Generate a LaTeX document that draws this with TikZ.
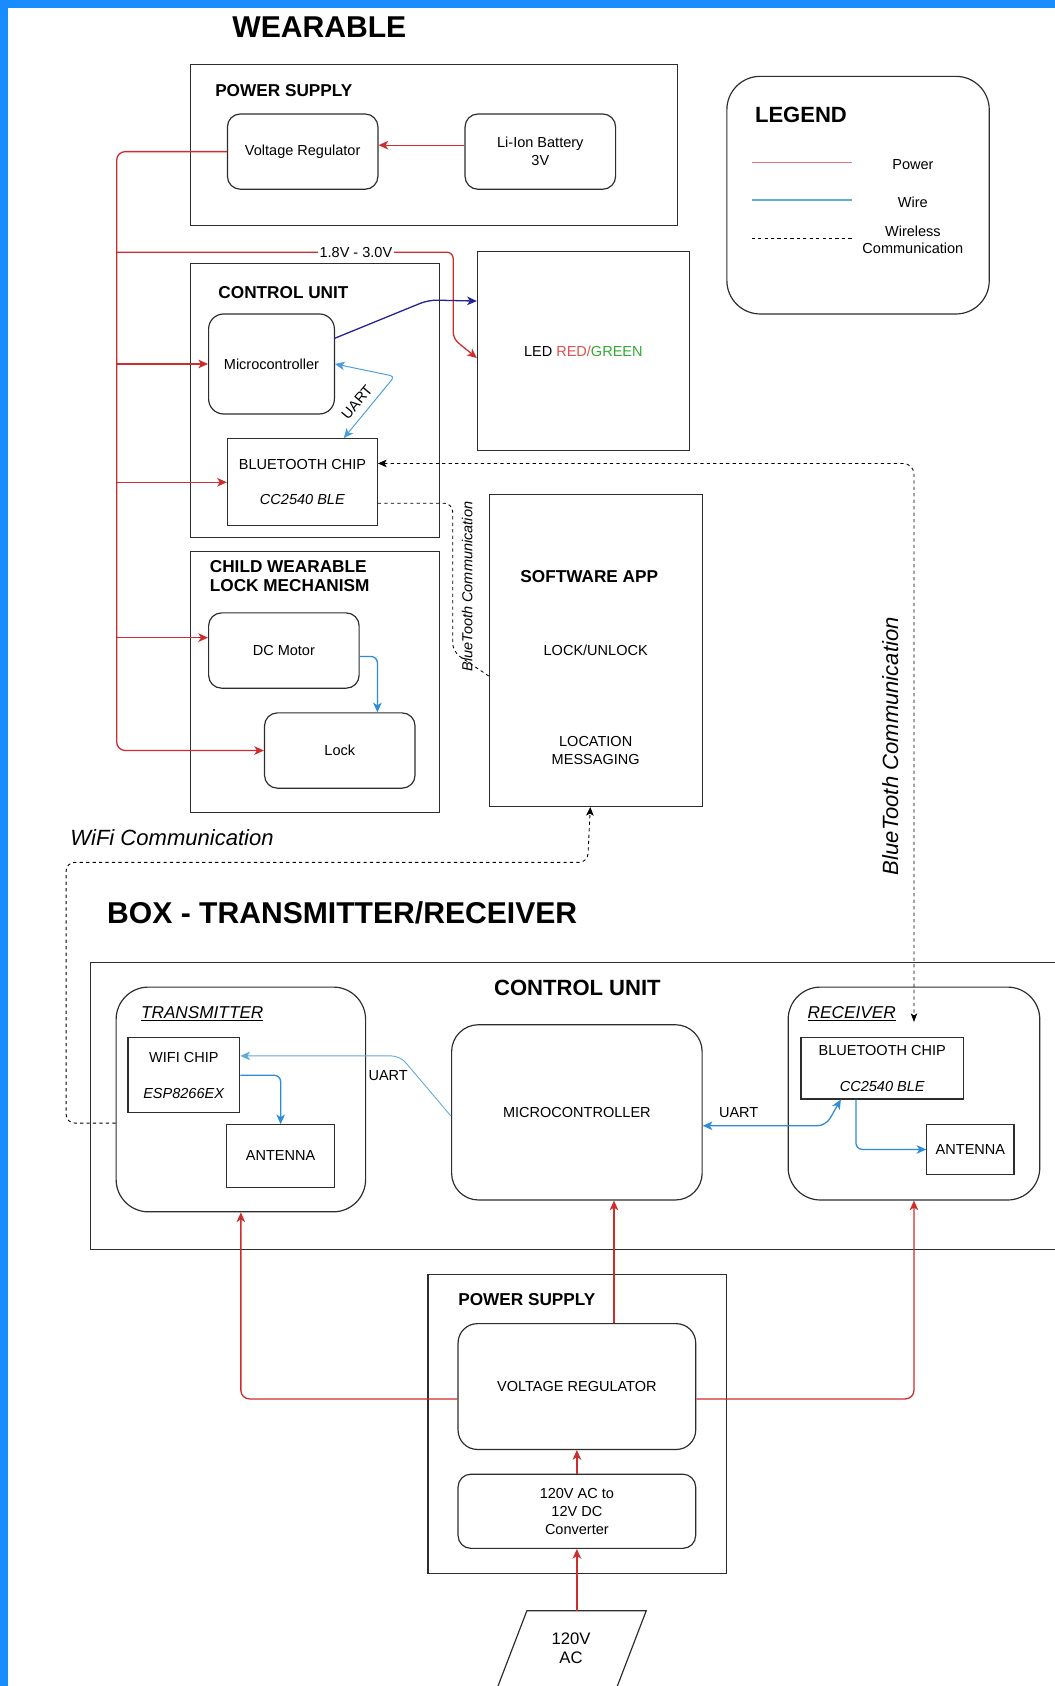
\documentclass[tikz,border=0pt]{standalone}
\usepackage{fontspec}
\setmainfont{Liberation Sans}
\usetikzlibrary{arrows.meta,calc}
\definecolor{frameblue}{RGB}{25,140,255}
\definecolor{pwred}{RGB}{205,45,45}
\definecolor{wireblue}{RGB}{45,140,215}
\definecolor{lightwire}{RGB}{95,170,215}
\definecolor{navyblue}{RGB}{35,35,145}
\definecolor{boxline}{RGB}{45,45,45}
\definecolor{legred}{RGB}{225,120,120}
\definecolor{legblue}{RGB}{100,170,210}
\definecolor{ledred}{RGB}{225,80,80}
\definecolor{ledgreen}{RGB}{50,170,50}
\newcommand\fnormal{\fontsize{13.5}{16.5}\selectfont}
\newcommand\fsub{\fontsize{16}{19}\selectfont}
\newcommand\ftitle{\fontsize{16}{18}\selectfont\bfseries}
\newcommand\fbig{\fontsize{20.5}{24}\selectfont\bfseries}
\newcommand\fitbig{\fontsize{20.5}{24}\selectfont\itshape}
\newcommand\fhuge{\fontsize{28}{32}\selectfont\bfseries}
\tikzset{
  box/.style={draw=boxline, line width=1.1pt, inner sep=0pt, align=center, font=\fnormal},
  rbox/.style={box, rounded corners=12pt},
  arr/.style={-{Stealth[length=9pt,width=8pt,inset=2.5pt]}},
  arrtwo/.style={{Stealth[length=9pt,width=8pt,inset=2.5pt]}-{Stealth[length=9pt,width=8pt,inset=2.5pt]}},
  carr/.style={-{Stealth[length=8pt,width=7pt,inset=2pt]}},
  carrtwo/.style={{Stealth[length=8pt,width=7pt,inset=2pt]}-{Stealth[length=8pt,width=6pt,inset=2pt]}},
  pw/.style={draw=pwred, line width=1.2pt},
  pwa/.style={pw, arr},
  wire/.style={draw=wireblue, line width=1.2pt},
  wirea/.style={wire, arr},
  wireatwo/.style={wire, arrtwo},
  thinwirea/.style={draw=lightwire, line width=0.8pt, arr},
  navya/.style={draw=navyblue, line width=1.2pt, arr},
  comm/.style={draw=black, line width=0.8pt, dash pattern=on 3pt off 3pt},
  comma/.style={comm, carr},
  commatwo/.style={comm, carrtwo},
  lbl/.style={font=\fnormal, inner sep=1pt}
}
\begin{document}
\begin{tikzpicture}[x=1pt,y=-1pt]
\useasboundingbox (0,0) rectangle (981,1568);
\fill[white] (0,0) rectangle (981,1568);
\fill[frameblue] (0,0) rectangle (7,1568);
\fill[frameblue] (0,0) rectangle (981,7);

% ---------------- WEARABLE ----------------
\node[font=\fhuge] (wtitle) at (297,25) {WEARABLE};
\node[box, minimum width=453pt, minimum height=150pt] (wps) at (403.5,135) {};
\node[font=\ftitle, anchor=west, inner sep=0pt] (wpsT) at (200,84) {POWER SUPPLY};
\node[rbox, minimum width=140pt, minimum height=70pt] (wvr) at (281.5,141) {Voltage Regulator};
\node[rbox, minimum width=140pt, minimum height=70pt] (wbat) at (502.5,141) {Li-Ion Battery\\3V};

% legend
\node[box, rounded corners=31pt, minimum width=244pt, minimum height=221pt] (legend) at (798,181.5) {};
\node[font=\fbig, anchor=west, inner sep=0pt] (legT) at (702,107) {LEGEND};
\coordinate (lpA) at (699,151); \coordinate (lpB) at (792,151);
\draw[legred, line width=1.2pt] (lpA) -- (lpB);
\node[lbl] (legP) at (849,153) {Power};
\coordinate (lwA) at (699,186); \coordinate (lwB) at (792,186);
\draw[legblue, line width=1.2pt] (lwA) -- (lwB);
\node[lbl] (legW) at (849,188) {Wire};
\coordinate (ldA) at (699,222); \coordinate (ldB) at (792,222);
\draw[comm] (ldA) -- (ldB);
\node[lbl, align=center] (legC) at (849,223) {Wireless\\Communication};

% control unit (wearable)
\node[box, minimum width=232pt, minimum height=255pt] (wcu) at (293,372.5) {};
\node[font=\ftitle, anchor=west, inner sep=0pt] (wcuT) at (203,272) {CONTROL UNIT};
\node[rbox, rounded corners=14pt, minimum width=117pt, minimum height=93pt] (wmc) at (252.5,338.5) {Microcontroller};
\node[box, minimum width=139.5pt, minimum height=81pt] (wbt) at (281.25,448.5) {BLUETOOTH CHIP\\[16.5pt]\textit{CC2540 BLE}};

% LED
\node[box, minimum width=197pt, minimum height=185pt] (led) at (542.5,326.5) {LED \textcolor{ledred}{RED/}\textcolor{ledgreen}{GREEN}};

% child wearable lock
\node[box, minimum width=232pt, minimum height=243pt] (wch) at (293,634.5) {};
\node[font=\ftitle, anchor=west, align=left, inner sep=0pt] (wchT) at (195,536) {CHILD WEARABLE\\LOCK MECHANISM};
\node[rbox, minimum width=140pt, minimum height=70pt] (dcm) at (264,605) {DC Motor};
\node[rbox, minimum width=140pt, minimum height=70pt] (lock) at (316,698) {Lock};

% software app
\node[box, minimum width=197.5pt, minimum height=290pt] (app) at (554.25,605) {};
\node[font=\ftitle] (appT) at (548,536) {SOFTWARE APP};
\node[lbl] (appL) at (554,605) {LOCK/UNLOCK};
\node[lbl, align=center] (appM) at (554,698) {LOCATION\\MESSAGING};

% power wiring (wearable)
\coordinate (busT) at (108.5,141);
\coordinate (busB) at (108.5,698);
\draw[pwa] ([yshift=6pt]wbat.west) -- ([yshift=6pt]wvr.east);
\draw[pwa, rounded corners=8pt] (wvr.west) -- (busT) -- (busB) -- (lock.west);
\draw[pwa] (busT |- wmc.west) -- (wmc.west);
\draw[pwa] (busT |- wbt.west) -- (wbt.west);
\coordinate (dcmIn) at ([yshift=12pt]dcm.west);
\draw[pwa] (busT |- dcmIn) -- (dcmIn);
\coordinate (vA) at (108.5,234.5);
\coordinate (vB) at (421.5,234.5);
\coordinate (vC) at (421.5,315);
\draw[pwa, rounded corners=6pt] (vA) -- (vB) -- (vC) -- ([yshift=-6.5pt]led.west);
\node[lbl, fill=white, inner sep=1.5pt] (vlbl) at (331,234.5) {1.8V - 3.0V};

% signal wiring (wearable)
\draw[navya, rounded corners=8pt] ([yshift=24pt]wmc.east) -- (398.5,279) -- ([yshift=46.5pt]led.west);
\draw[wireatwo, draw=wireblue!85, line width=0.9pt, rounded corners=4pt] (wmc.east) -- (367,350) -- ([xshift=38.5pt]wbt.north);
\node[lbl, rotate=50] (uart1) at (332,374) {UART};
\draw[wirea, rounded corners=6pt] ([yshift=-5.5pt]dcm.east) -| ([xshift=35pt]lock.north);

% ---------------- BOX ----------------
\node[font=\fhuge, anchor=west, inner sep=0pt] (btitle) at (99.5,849) {BOX - TRANSMITTER/RECEIVER};
\node[box, minimum width=926pt, minimum height=267pt] (bcu) at (547,1028.5) {};
\node[font=\fbig] (bcuT) at (537,918.5) {CONTROL UNIT};

\node[rbox, rounded corners=30pt, minimum width=232pt, minimum height=209pt] (tx) at (224,1022.5) {};
\node[font=\fsub, anchor=west, inner sep=0pt] (txT) at (131,943) {\underline{\textit{TRANSMITTER}}};
\node[box, minimum width=104pt, minimum height=70pt] (wifi) at (171,1000) {WIFI CHIP\\[16.5pt]\textit{ESP8266EX}};
\node[box, minimum width=100pt, minimum height=58pt] (tant) at (261,1075) {ANTENNA};

\node[rbox, rounded corners=25pt, minimum width=233pt, minimum height=163pt] (bmc) at (536.5,1034.5) {MICROCONTROLLER};

\node[rbox, rounded corners=30pt, minimum width=234pt, minimum height=198pt] (rx) at (850,1017) {};
\node[font=\fsub, anchor=west, inner sep=0pt] (rxT) at (751,943) {\underline{\textit{RECEIVER}}};
\node[box, minimum width=151pt, minimum height=57pt] (rbt) at (820.5,993.5) {BLUETOOTH CHIP\\[16.5pt]\textit{CC2540 BLE}};
\node[box, minimum width=81pt, minimum height=46pt] (rant) at (902.5,1069) {ANTENNA};

% bluetooth communications
\draw[commatwo, rounded corners=10pt] ([yshift=17.5pt]wbt.east) -- (850,431) -- ([yshift=-33pt]rx.north);
\node[font=\fitbig, rotate=90] (btl1) at (828,694) {BlueTooth Communication};
\draw[comm, rounded corners=8pt] ([yshift=-19.5pt]wbt.east) -- (421,468) -- (421,606) -- ([yshift=-24pt]app.west);
\node[font=\fnormal\itshape, rotate=90] (btl2) at (434.5,545.5) {BlueTooth Communication};

% wifi communication
\draw[comma, rounded corners=8pt] ([yshift=-22pt]tx.west) -- (61.5,1044.5) -- (61.5,802) -- (546.5,802) -- ([xshift=-5.25pt]app.south);
\node[font=\fitbig] (wifil) at (160,779) {WiFi Communication};

% box wiring
\draw[wirea, rounded corners=6pt] (wifi.east) -| (tant.north);
\draw[thinwirea, rounded corners=8pt] ([yshift=-3.5pt]bmc.west) -- (372,982) -- ([yshift=18pt]wifi.east);
\node[lbl] (uart2) at (361,1000) {UART};
\draw[wireatwo, rounded corners=8pt] ([yshift=-12.5pt]bmc.east) -- (768,1047) -- ([xshift=-38.5pt]rbt.south);
\node[lbl] (uart3) at (687,1035) {UART};
\draw[wirea, rounded corners=6pt] ([xshift=-24.5pt]rbt.south) |- (rant.west);

% power supply (box)
\node[box, minimum width=278pt, minimum height=278pt] (bps) at (537,1324) {};
\node[font=\ftitle, anchor=west, inner sep=0pt] (bpsT) at (426,1209) {POWER SUPPLY};
\node[rbox, rounded corners=18pt, minimum width=221pt, minimum height=117pt] (bvr) at (536.5,1289.5) {VOLTAGE REGULATOR};
\node[rbox, minimum width=221pt, minimum height=69pt] (conv) at (536.5,1405.5) {120V AC to\\12V DC\\Converter};
\draw[draw=boxline, line width=1.1pt] (490,1498) -- (601,1498) -- (573,1571) -- (462,1571) -- cycle;
\node[font=\fontsize{15.5}{17}\selectfont, align=center] (ac) at (531,1533) {120V\\AC};
\coordinate (acTop) at (536.5,1498);
\draw[pwa] (acTop) -- (conv.south);
\draw[pwa] (conv.north) -- (bvr.south);
\draw[pwa] ([xshift=34.5pt]bvr.north) -- ([xshift=34.5pt]bmc.south);
\draw[pwa, rounded corners=8pt] ([yshift=-11.5pt]bvr.west) -| (tx.south);
\draw[pwa, rounded corners=8pt] ([yshift=-11.5pt]bvr.east) -| (rx.south);
\end{tikzpicture}
\end{document}
